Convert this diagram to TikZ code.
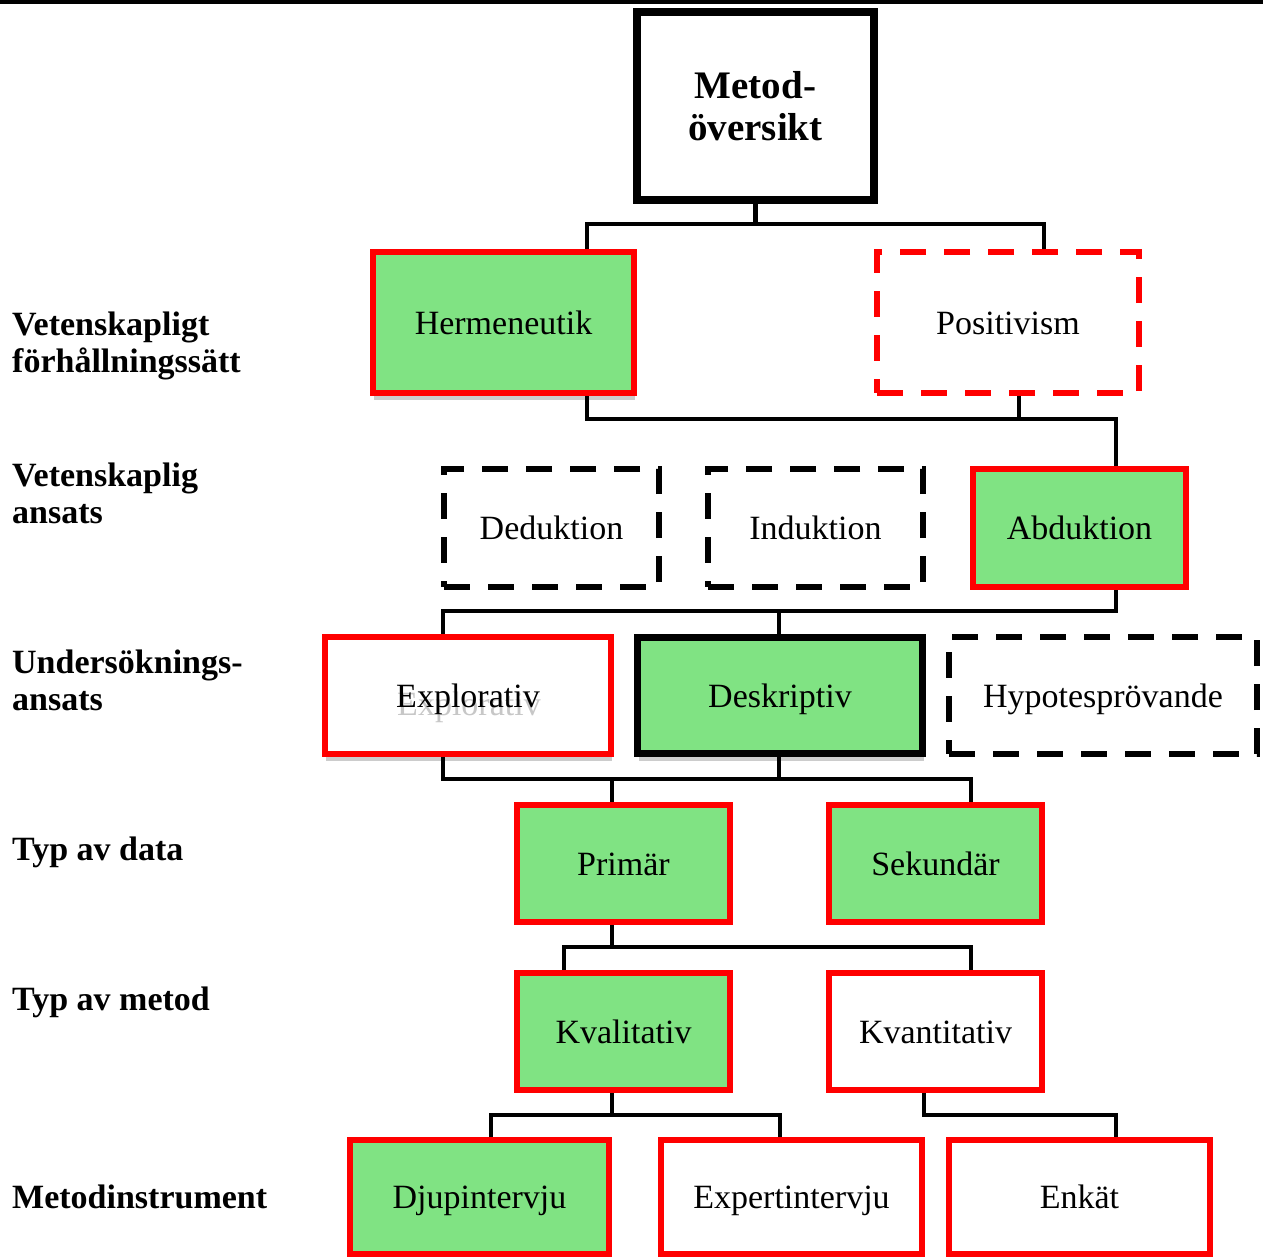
\documentclass[tikz,border=0pt]{standalone}
\usepackage{fontspec}
\setmainfont{Liberation Serif}
\usetikzlibrary{calc,shadows}
\definecolor{selgreen}{RGB}{128,227,131}
\newcommand\boxfont{\fontsize{34}{37}\selectfont}
\newcommand\headfont{\fontsize{34}{37}\selectfont\bfseries}
\newcommand\titlefont{\fontsize{39}{42}\selectfont\bfseries}

\begin{document}
\begin{tikzpicture}[x=1pt,y=-1pt,
  box/.style={rectangle, draw, line width=6pt, outer sep=3pt, fill=white,
    inner sep=0pt, font=\boxfont, text height=23pt, text depth=0pt},
  sz/.style 2 args={minimum width=#1pt, minimum height=#2pt},
  chosen/.style={box, draw=red, fill=selgreen},
  open/.style={box, draw=red},
  dropped/.style={box, draw=red, dash pattern=on 26pt off 18pt},
  unused/.style={box, draw=black, dash pattern=on 26pt off 18pt},
  shade/.style={drop shadow={shadow xshift=1pt, shadow yshift=-7pt,
    fill=black!20, opacity=1}},
  conn/.style={line width=4.5pt},
  level/.style={anchor=base west, font=\headfont, align=left, inner sep=0pt},
]
\useasboundingbox (0,0) rectangle (1263,1258);

% rule along the top edge
\draw[line width=3.5pt] (0,1.75) -- (1263,1.75);

% title box
\node[draw, line width=8pt, outer sep=4pt, fill=white, inner sep=0pt,
  minimum width=237pt, minimum height=188pt, font=\titlefont, align=center]
  (top) at (755.5,106) {Metod-\\översikt};

% level 1: scientific stance
\node[chosen, shade, sz={261}{141}] (herm) at (503.5,322.5) {Hermeneutik};
\node[dropped, sz={262}{141}] (pos) at (1008,322.5) {Positivism};

% level 2: scientific approach
\node[unused, sz={215}{118}] (ded) at (551.5,528) {Deduktion};
\node[unused, sz={215}{118}] (ind) at (815.5,528) {Induktion};
\node[chosen, sz={213}{118}] (abd) at (1079.5,528) {Abduktion};

% level 3: study approach
\node[open, shade, sz={286}{117},
  path picture={\node[text=black!22, font=\boxfont, inner sep=0pt,
    text height=23pt, text depth=0pt]
    at ([xshift=1pt,yshift=-8pt]path picture bounding box.center) {Explorativ};}]
  (expl) at (468,695.5) {Explorativ};
\node[box, draw=black, line width=7pt, outer sep=3.5pt, fill=selgreen, shade,
  sz={285}{116}] (desk) at (780,695.5) {Deskriptiv};
\node[unused, sz={308}{117}] (hyp) at (1103,695.5) {Hypotesprövande};

% level 4: type of data
\node[chosen, sz={213}{117}] (prim) at (623.5,863.5) {Primär};
\node[chosen, sz={213}{117}] (sek) at (935.5,863.5) {Sekundär};

% level 5: type of method
\node[chosen, sz={213}{117}] (kval) at (623.5,1031.5) {Kvalitativ};
\node[open, sz={213}{117}] (kvant) at (935.5,1031.5) {Kvantitativ};

% level 6: instruments
\node[chosen, sz={259}{114}] (djup) at (479.5,1197) {Djupintervju};
\node[open, sz={261}{114}] (expt) at (791.5,1197) {Expertintervju};
\node[open, sz={261}{114}] (enk) at (1079.5,1197) {Enkät};

% junctions of the tree
\coordinate (b1) at (755.5,224);
\coordinate (b2) at (1019,419);
\coordinate (b3) at (779,611);
\coordinate (b4) at (612,779);
\coordinate (b5) at (612,947);
\coordinate (b6) at (612,1115);
\coordinate (b7) at (924,1115);

% connectors
\draw[conn] (top.south) -- (b1);
\draw[conn] ($(herm.north)+(83.5,0)$) |- (b1) -| ($(pos.north)+(36,0)$);
\draw[conn] ($(herm.south)+(83.5,0)$) |- (b2) -| ($(abd.north)+(36.5,0)$);
\draw[conn] ($(pos.south)+(11,0)$) -- (b2);
\draw[conn] ($(abd.south)+(36.5,0)$) |- (b3) -| ($(expl.north)+(-25,0)$);
\draw[conn] (b3) -- ($(desk.north)+(-1,0)$);
\draw[conn] ($(expl.south)+(-25,0)$) |- (b4) -- ($(prim.north)+(-11.5,0)$);
\draw[conn] (b4) -| ($(sek.north)+(35.5,0)$);
\draw[conn] ($(desk.south)+(-1,0)$) -- ($(desk.south)+(-1,24)$);
\draw[conn] ($(prim.south)+(-11.5,0)$) -- (b5);
\draw[conn] ($(kval.north)+(-59.5,0)$) |- (b5) -| ($(kvant.north)+(35.5,0)$);
\draw[conn] ($(kval.south)+(-11.5,0)$) -- (b6);
\draw[conn] ($(djup.north)+(11.5,0)$) |- (b6) -| ($(expt.north)+(-11.5,0)$);
\draw[conn] ($(kvant.south)+(-11.5,0)$) -- (b7) -| ($(enk.north)+(36.5,0)$);

% level headings (anchored at the baseline of their last line)
\node[level] (h1) at (12,372) {Vetenskapligt\\förhållningssätt};
\node[level] (h2) at (12,523) {Vetenskaplig\\ansats};
\node[level] (h3) at (12,710) {Undersöknings-\\ansats};
\node[level] (h4) at (12,860) {Typ av data};
\node[level] (h5) at (12,1010) {Typ av metod};
\node[level] (h6) at (12,1208) {Metodinstrument};
\end{tikzpicture}
\end{document}
